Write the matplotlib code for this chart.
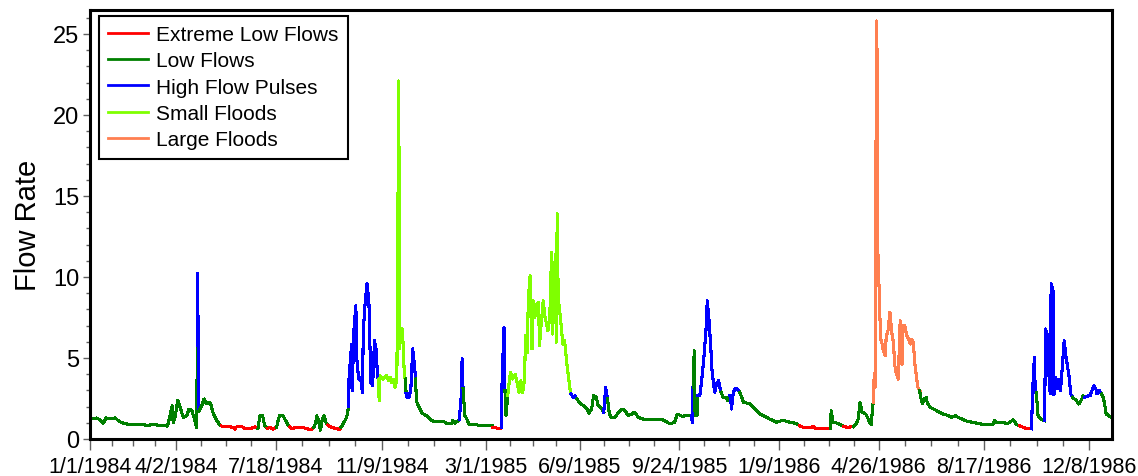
from datetime import datetime

import numpy as np
import matplotlib
matplotlib.use("Agg")
import matplotlib.pyplot as plt
from matplotlib import dates as mdates
from matplotlib.lines import Line2D
from matplotlib.ticker import FixedLocator, MultipleLocator

plt.rcParams['font.family'] = ['Liberation Sans', 'DejaVu Sans']

regime_names = ["Extreme Low Flows", "Low Flows", "High Flow Pulses", "Small Floods", "Large Floods"]
regime_codes = "ELHSF"
regime_colors = ["#FF0000", "#008000", "#0000FF", "#7FFF00", "#FF7F50"]

tick_labels = ["1/1/1984", "4/2/1984", "7/18/1984", "11/9/1984", "3/1/1985", "6/9/1985",
               "9/24/1985", "1/9/1986", "4/26/1986", "8/17/1986", "12/8/1986"]

# days counted from 1/1/1984, flow rate, regime letter of each point (groups of 5)
days_spring84 = [0, 4, 7, 11, 14, 17, 21, 27, 30, 34, 39, 46, 54, 61, 68,
                 75, 83, 85, 88, 89, 91, 94, 97, 100, 104, 106, 109, 112, 114, 115,
                 115, 116, 116, 118, 120, 122, 124, 129, 131, 133, 136, 139]
flow_spring84 = [1.30, 1.25, 1.30, 1.15, 0.97, 1.30, 1.25, 1.30, 1.13, 1.00, 0.93, 0.88, 0.90, 0.85, 0.88,
                 0.85, 0.80, 1.30, 2.05, 1.00, 1.35, 2.40, 1.85, 1.30, 1.50, 1.85, 1.75, 1.20, 0.70, 5.76,
                 10.20, 5.76, 1.70, 1.85, 2.10, 2.47, 2.22, 2.22, 1.75, 1.44, 1.13, 0.86]
regime_spring84 = "LLLLL LLLLL LLLLL LLLLL LLLLL LLLLL HHLLL LLLLL LL"

days_summer84 = [141, 154, 155, 157, 163, 166, 172, 177, 180, 182, 185, 187, 190, 193, 196,
                 199, 200, 201, 203, 207, 209, 212, 214, 216, 220, 229, 233, 238, 240, 242,
                 243, 245, 247, 249, 251, 253, 255, 259, 265, 268, 269, 271, 274, 276, 277]
flow_summer84 = [0.80, 0.72, 0.60, 0.75, 0.75, 0.65, 0.65, 0.75, 0.65, 1.44, 1.44, 0.85, 0.65, 0.72, 0.60,
                 0.72, 0.72, 1.00, 1.44, 1.44, 1.20, 0.90, 0.75, 0.62, 0.72, 0.70, 0.62, 0.60, 0.72, 1.00,
                 1.44, 1.13, 0.55, 1.20, 1.44, 1.00, 0.85, 0.72, 0.62, 0.60, 0.72, 0.90, 1.20, 1.54, 1.99]
regime_summer84 = "EEEEE EEEEL LLEEE EELLL LLEEE EEEEL LLLLL LEEEE ELLLL"

days_winter85 = [278, 279, 280, 281, 283, 285, 286, 288, 290, 292, 293, 295, 297, 299, 300,
                 301, 303, 305, 307, 308, 309, 310, 311, 314, 318, 320, 322, 323, 325, 327,
                 329, 330, 331, 332, 333, 335, 336, 337, 338, 339, 340, 342, 344, 346, 348,
                 349, 350, 351, 353, 356, 359, 363, 366, 372, 379, 382, 388, 389, 391, 394,
                 396, 398, 399, 400, 401, 402, 404, 406, 416, 431, 432, 435, 437, 440, 441,
                 442, 444, 445, 446, 447, 448]
flow_winter85 = [4.53, 3.20, 5.86, 2.98, 6.79, 8.23, 4.94, 3.70, 3.80, 2.88, 6.69, 8.44, 9.57, 8.44, 6.07,
                 3.50, 3.30, 6.07, 5.45, 4.00, 3.70, 2.37, 3.90, 3.70, 3.90, 3.60, 3.80, 3.50, 3.70, 3.20,
                 3.60, 12.86, 22.10, 5.56, 6.79, 6.79, 5.35, 4.00, 3.70, 2.80, 2.57, 2.57, 3.09, 5.56, 4.50,
                 3.70, 2.37, 2.16, 1.95, 1.58, 1.50, 1.34, 1.13, 1.07, 1.09, 0.97, 0.97, 1.15, 0.97, 1.10,
                 1.20, 2.57, 4.94, 3.09, 2.26, 1.44, 1.23, 0.93, 0.86, 0.86, 0.72, 0.72, 0.62, 0.62, 0.72,
                 3.91, 6.89, 3.00, 1.44, 2.06, 2.67]
regime_winter85 = "HHHHH HHHHH HHHHH HHHHH LSSSS SSSSS SSSSS SSSLL HHHHH LLLLL LLLLL LLLLL LHHLL LLLLL EEEEE HHLLL L"

days_spring85 = [450, 451, 453, 456, 458, 460, 462, 464, 466, 467, 469, 470, 472, 474, 475,
                 477, 479, 481, 482, 484, 486, 488, 490, 491, 493, 495, 496, 498, 499, 500,
                 501, 502, 503, 505, 507, 509, 511, 513, 515, 516, 518, 520, 522, 525, 529,
                 533, 535, 538, 540, 543, 545, 549, 551, 553, 555, 557, 559, 563, 567, 570,
                 574, 577, 581, 584, 588, 593, 601, 608, 615, 622, 627, 630, 635, 640, 645]
flow_spring85 = [3.80, 4.12, 3.70, 4.00, 3.50, 2.88, 3.60, 2.88, 3.70, 6.38, 5.35, 8.64, 10.08, 5.56, 8.54,
                 7.51, 8.33, 8.44, 5.76, 7.20, 8.54, 7.51, 7.00, 6.69, 7.41, 11.52, 6.48, 9.88, 11.42, 5.97,
                 13.89, 9.16, 8.23, 7.20, 5.86, 6.07, 4.84, 3.91, 2.98, 2.78, 2.57, 2.67, 2.47, 2.26, 2.06,
                 1.85, 1.58, 1.85, 2.67, 2.57, 2.06, 1.85, 1.65, 3.19, 2.47, 1.54, 1.34, 1.34, 1.65, 1.85,
                 1.75, 1.44, 1.54, 1.65, 1.34, 1.23, 1.23, 1.23, 1.17, 0.93, 1.03, 1.54, 1.40, 1.44, 1.44]
regime_spring85 = "SSSSS SSSSS SSSSS SSSSS SSSSS SSSSS SSSSS SSSSL HHLLL LLLLL LLLHL LLLLL LLLLL LLLLL LLLLL"

days_winter86 = [646, 646, 647, 648, 649, 651, 652, 654, 656, 658, 659, 661, 662, 664, 666,
                 667, 669, 670, 672, 674, 676, 677, 679, 682, 684, 686, 687, 688, 690, 692,
                 694, 697, 699, 701, 704, 708, 711, 715, 719, 722, 726, 729, 733, 736, 740,
                 744, 747, 751, 758, 761, 765, 770, 776, 779, 794, 795, 797, 799, 803, 806,
                 808, 812, 819, 822, 824, 826, 828, 829, 832, 834, 836, 838, 839, 840]
flow_winter86 = [1.03, 3.19, 3.19, 5.45, 1.44, 1.44, 2.67, 2.67, 3.60, 4.73, 5.45, 7.00, 8.54, 7.30, 5.45,
                 4.32, 3.29, 2.88, 3.40, 3.60, 3.09, 2.88, 2.57, 2.57, 2.37, 2.67, 2.60, 1.85, 2.88, 3.09,
                 3.09, 2.88, 2.57, 2.26, 2.22, 2.16, 1.95, 1.75, 1.54, 1.44, 1.34, 1.23, 1.13, 1.03, 1.10,
                 1.15, 1.09, 1.03, 0.95, 0.82, 0.72, 0.72, 0.75, 0.64, 0.64, 1.75, 1.03, 1.03, 0.93, 0.85,
                 0.78, 0.72, 0.76, 0.93, 1.23, 2.26, 1.65, 1.65, 1.54, 1.34, 1.03, 0.90, 1.65, 2.26]
regime_winter86 = "HHLLL LLHHH HHHHH HHHHH HLLLL LHHHH HLLLL LLLLL LLLLL LLLLE EEEEE LLLLL EEELL LLLLL LLLL"

days_rest86 = [841, 842, 843, 844, 845, 846, 848, 849, 851, 853, 854, 856, 858, 860, 862,
               863, 865, 867, 869, 871, 872, 874, 876, 878, 880, 881, 883, 885, 887, 888,
               890, 891, 893, 895, 897, 898, 901, 905, 910, 915, 921, 924, 928, 931, 937,
               942, 947, 955, 962, 969, 970, 972, 980, 983, 987, 990, 992, 994, 997, 1001,
               1005, 1010, 1011, 1013, 1014, 1015, 1017, 1021, 1024, 1025, 1027, 1028, 1030, 1031, 1033,
               1034, 1036, 1038, 1040, 1041, 1043, 1045, 1047, 1049, 1050, 1052, 1054, 1056, 1058, 1061,
               1064, 1065, 1067, 1071, 1073, 1074, 1077, 1079, 1080, 1083, 1085, 1087, 1089, 1090, 1093,
               1095]
flow_rest86 = [3.70, 3.19, 17.30, 25.80, 11.73, 10.08, 6.17, 6.07, 5.45, 5.14, 6.28, 6.69, 7.82, 6.58, 5.86,
               4.63, 4.01, 3.70, 7.30, 4.63, 7.00, 7.00, 6.38, 6.17, 5.86, 6.17, 5.97, 4.53, 3.60, 3.19,
               2.98, 2.57, 2.16, 2.47, 2.57, 2.26, 1.95, 1.85, 1.69, 1.54, 1.44, 1.34, 1.44, 1.34, 1.19,
               1.07, 1.03, 0.93, 0.88, 0.93, 1.13, 1.03, 1.03, 0.93, 1.03, 1.19, 1.07, 0.88, 0.82, 0.72,
               0.62, 0.62, 2.88, 5.04, 2.88, 2.88, 1.44, 1.19, 1.13, 6.79, 6.38, 4.53, 2.78, 9.57, 9.16,
               2.72, 3.81, 3.09, 3.70, 2.98, 4.42, 6.07, 5.04, 4.32, 4.01, 2.78, 2.57, 2.47, 2.37, 2.16,
               2.47, 2.67, 2.57, 2.67, 2.67, 2.88, 3.29, 3.09, 2.78, 2.98, 2.78, 2.57, 1.95, 1.54, 1.44,
               1.34]
regime_rest86 = "FFFFF FFFFF FFFFF FFFFF FFFFF FFFFF LLLLL LLLLL LLLLL LLLLL LLLLL LLLEE EEHHH LLLLH HHHHH HHHHH HHHHH HLLLL LLLHH HHHHH LLLLL L"

days = days_spring84 + days_summer84 + days_winter85 + days_spring85 + days_winter86 + days_rest86
flow = np.array(flow_spring84 + flow_summer84 + flow_winter85 + flow_spring85 + flow_winter86 + flow_rest86)
regime = "".join((regime_spring84 + regime_summer84 + regime_winter85 + regime_spring85
                  + regime_winter86 + regime_rest86).split())

base = mdates.date2num(np.datetime64("1984-01-01"))
x = base + np.array(days, dtype=float)
rank = np.array([regime_codes.index(c) for c in regime])
seg = np.maximum(rank[:-1], rank[1:])

fig = plt.figure(figsize=(11.38, 4.77), dpi=100)
ax = fig.add_axes([0.0793, 0.0776, 0.8976, 0.900])

start = 0
for i in range(1, len(seg) + 1):
    if i == len(seg) or seg[i] != seg[start]:
        ax.plot(x[start:i + 1], flow[start:i + 1], color=regime_colors[seg[start]],
                lw=1.5, antialiased=False)
        start = i

ax.set_xlim(base, base + 1096)
ax.set_ylim(0, 26.5)

major = [mdates.date2num(datetime.strptime(t, "%m/%d/%Y")) for t in tick_labels]
minor = []
for a, b in zip(major[:-1], major[1:]):
    minor += list(np.linspace(a, b, 5)[1:-1])
ax.xaxis.set_major_locator(FixedLocator(major))
ax.xaxis.set_minor_locator(FixedLocator(minor))
ax.set_xticklabels(tick_labels, fontsize=15.5)
ax.yaxis.set_major_locator(MultipleLocator(5))
ax.yaxis.set_minor_locator(MultipleLocator(1))
ax.tick_params(axis='y', which='major', labelsize=17, length=5, width=1, color='#606060', pad=3)
ax.tick_params(axis='y', which='minor', length=3, width=1, color='#606060')
ax.tick_params(axis='x', which='major', length=8, width=1, color='#606060', pad=4)
ax.tick_params(axis='x', which='minor', length=5, width=1, color='#606060')

for s in ax.spines.values():
    s.set_linewidth(2.2)

ax.set_ylabel("Flow Rate", fontsize=21)
ax.yaxis.set_label_coords(-0.047, 0.5)

handles = [Line2D([], [], color=c, lw=2) for c in regime_colors]
leg = ax.legend(handles, regime_names, loc='upper left', bbox_to_anchor=(0.0082, 0.986),
                borderaxespad=0, fontsize=15, handlelength=1.92, handletextpad=0.38,
                labelspacing=0.35, borderpad=0.45, fancybox=False, framealpha=1,
                edgecolor='black')
leg.get_frame().set_linewidth(1.5)

fig.savefig("out.png", dpi=100)
